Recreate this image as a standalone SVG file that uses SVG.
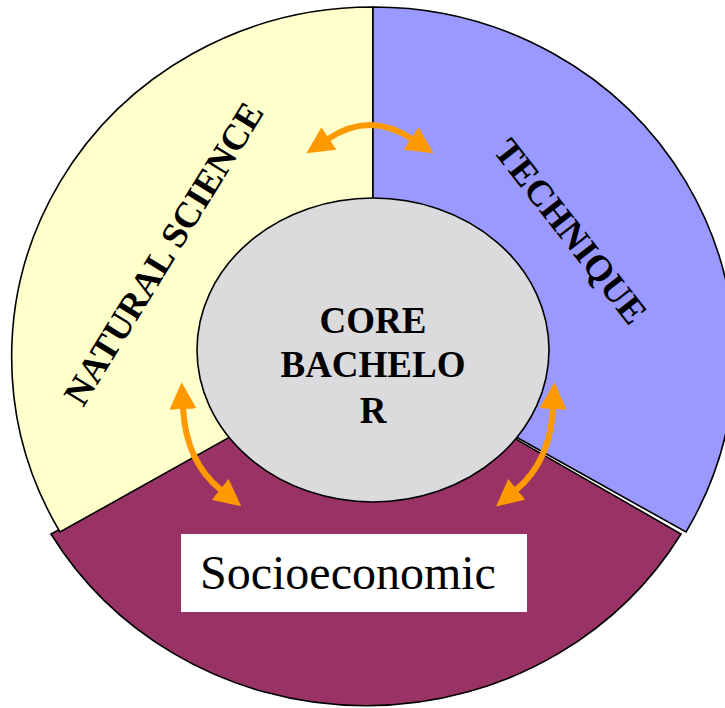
<svg xmlns="http://www.w3.org/2000/svg" width="725" height="708" viewBox="0 0 725 708">
<style>
.sector{stroke:#000;stroke-width:1.6;stroke-linejoin:miter}
.lbl{font-family:"Liberation Serif","Times New Roman",serif;font-weight:bold;fill:#000}
.conn{fill:none;stroke:#FF9900;stroke-width:6;marker-start:url(#head);marker-end:url(#head)}
</style>
<defs>
<marker id="head" markerUnits="userSpaceOnUse" markerWidth="27" markerHeight="27" viewBox="0 0 24 24" refX="1" refY="12" orient="auto-start-reverse">
<path d="M0,0 L24,12 L0,24 Z" fill="#FF9900"/>
</marker>
</defs>
<rect width="725" height="708" fill="#fff"/>
<g id="socioeconomic">
<path class="sector" d="M373,357 L681,534 A366,350 0 0 1 51,534 Z" fill="#993366"/>
</g>
<g id="natural-science">
<path class="sector" d="M373,357 L60,532 A361,350 0 0 1 373,7 Z" fill="#FFFFCC"/>
<text class="lbl" font-size="36.5" text-anchor="middle" transform="translate(174,260) rotate(-58.5)">NATURAL SCIENCE</text>
</g>
<g id="technique">
<path class="sector" d="M373,357 L373,7 A361,350 0 0 1 686,532 Z" fill="#9999FF"/>
<text class="lbl" font-size="36.5" text-anchor="middle" transform="translate(561,239) rotate(52)">TECHNIQUE</text>
</g>
<g id="core">
<ellipse cx="373" cy="350" rx="176" ry="152" fill="#DBDBDD" stroke="#000" stroke-width="1.6"/>
<text class="lbl" font-size="37" text-anchor="middle" x="373" y="333">CORE</text>
<text class="lbl" font-size="37" text-anchor="middle" x="373" y="377">BACHELO</text>
<text class="lbl" font-size="37" text-anchor="middle" x="373" y="423">R</text>
</g>
<g id="socio-label">
<rect x="181" y="534" width="346" height="78" fill="#fff"/>
<text x="200" y="589" font-family="Liberation Serif,'Times New Roman',serif" font-size="48" fill="#000">Socioeconomic</text>
</g>
<g id="connectors">
<path class="conn" d="M328,139 Q370,111 412,139"/>
<path class="conn" d="M183,408 Q186,462 221,490"/>
<path class="conn" d="M553,408 Q550,462 516,490"/>
</g>
</svg>
